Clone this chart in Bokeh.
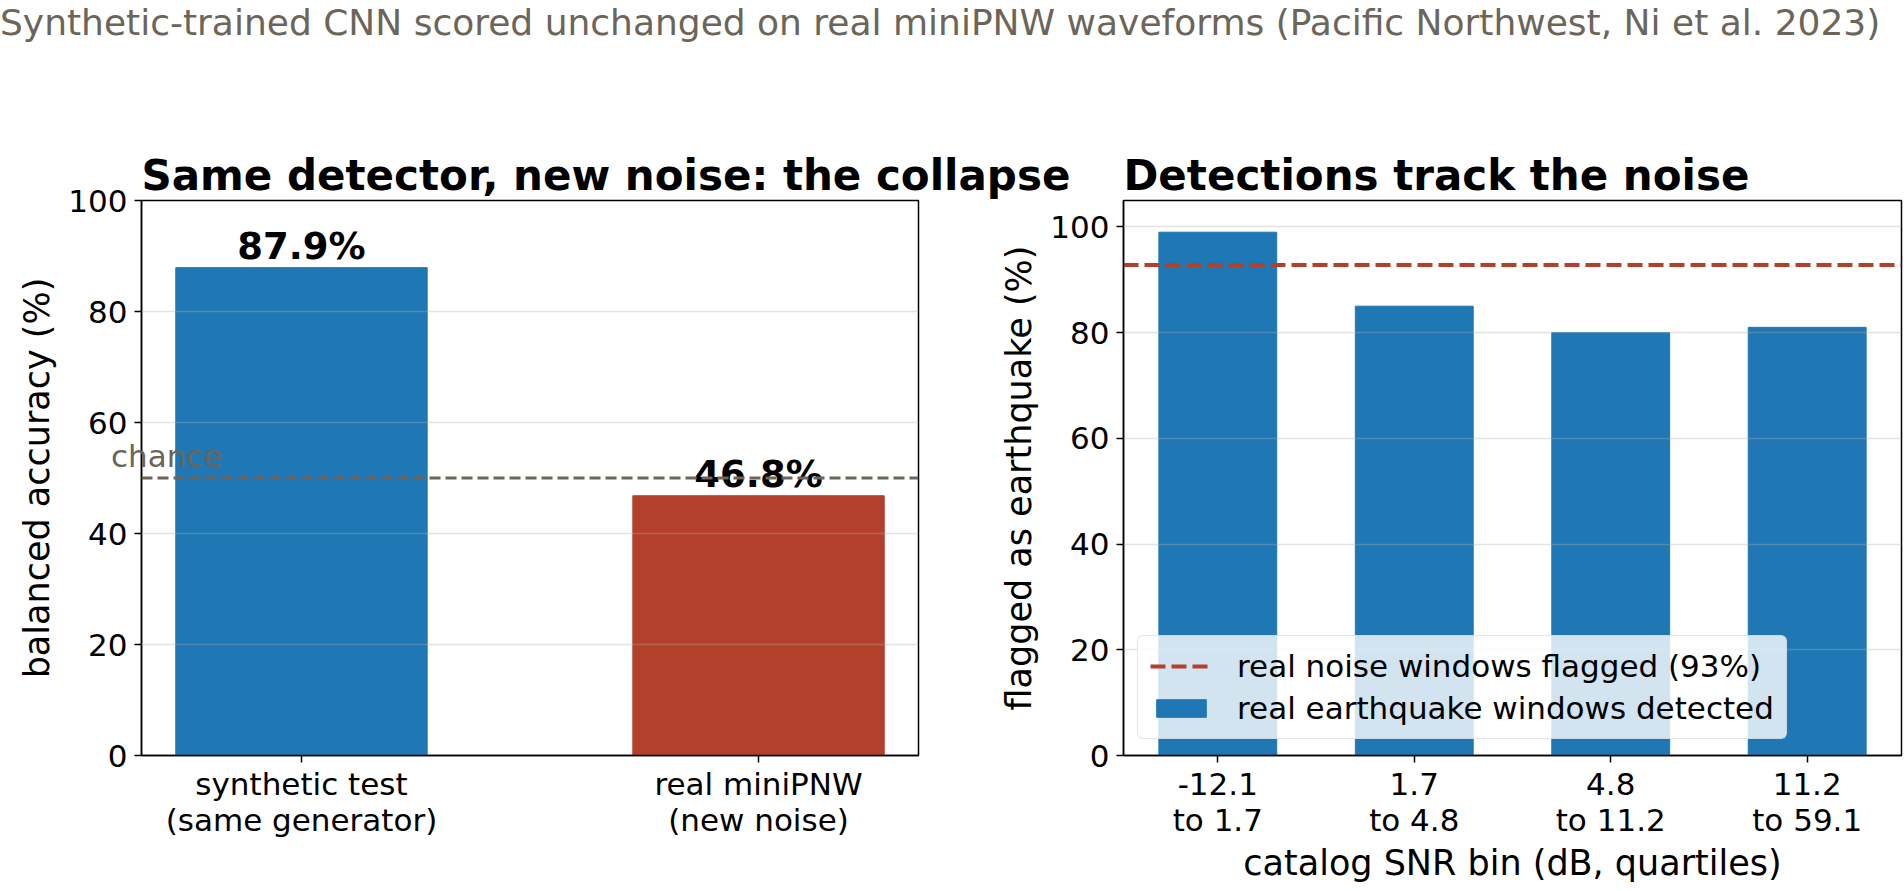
from bokeh.plotting import figure
from bokeh.models import (Range1d, FixedTicker, Span, Legend, LegendItem,
                          Div, ColumnDataSource)
from bokeh.layouts import row, column
from bokeh.core.properties import value
from bokeh.embed import file_html
from bokeh.resources import INLINE

# ---------------- data ----------------
suptitle = "Synthetic-trained CNN scored unchanged on real miniPNW waveforms (Pacific Northwest, Ni et al. 2023)"

left_title = "Same detector, new noise: the collapse"
left_categories = ["synthetic test\n(same generator)", "real miniPNW\n(new noise)"]
left_accuracy = [87.9, 46.8]
chance_level = 50
chance_text = "chance"
left_ylabel = "balanced accuracy (%)"

right_title = "Detections track the noise"
snr_bins = ["-12.1\nto 1.7", "1.7\nto 4.8", "4.8\nto 11.2", "11.2\nto 59.1"]
eq_detected = [99, 85, 80, 81]
noise_flagged = 92.8
right_ylabel = "flagged as earthquake (%)"
right_xlabel = "catalog SNR bin (dB, quartiles)"
legend_noise = "real noise windows flagged (93%)"
legend_eq = "real earthquake windows detected"

y_ticks = [0, 20, 40, 60, 80, 100]

# ---------------- style ----------------
FONT = "DejaVu Sans"
BLUE = "#1f77b4"
RED = "#b3402b"
GRAY = "#6b655a"
left_colors = [BLUE, RED]

X1 = (-0.35, 1.35)
X2 = (-0.48, 3.48)
Y1 = (0, 100)
Y2 = (0, 105)

HEADER_H = 82
FRAME_H = 555
TOP = 118
BOTTOM = 134
P1_LEFT, P1_FRAME, P1_RIGHT = 141, 777, 165
P2_START, P2_LEFT, P2_FRAME, P2_RIGHT = 993, 130, 778, 3


def style(p):
    p.outline_line_color = "black"
    p.outline_line_width = 1.5
    p.outline_line_alpha = 1.0
    p.border_fill_color = None
    p.background_fill_color = "white"
    p.xgrid.visible = False
    p.ygrid.grid_line_color = "#b0b0b0"
    p.ygrid.grid_line_alpha = 0.35
    p.ygrid.grid_line_width = 1.5
    p.ygrid.level = "guide"
    p.yaxis.ticker = FixedTicker(ticks=y_ticks)
    for ax in p.axis:
        ax.axis_line_color = "black"
        ax.axis_line_width = 1.5
        ax.major_tick_line_color = "black"
        ax.major_tick_line_width = 1.5
        ax.major_tick_in = 0
        ax.major_tick_out = 7
        ax.minor_tick_line_color = None
        ax.major_label_text_font = FONT
        ax.major_label_text_font_size = "31px"
        ax.major_label_text_color = "black"
        ax.major_label_text_line_height = 1.025
        ax.major_label_standoff = 7
        ax.axis_label_text_font = FONT
        ax.axis_label_text_font_size = "35px"
        ax.axis_label_text_font_style = "normal"
        ax.axis_label_text_color = "black"
        ax.axis_label_text_line_height = 1.0
    p.xaxis.major_label_standoff = 3
    p.title.text_font = FONT
    p.title.text_font_size = "42px"
    p.title.text_font_style = "bold"
    p.title.text_color = "black"
    p.title.align = "left"
    p.title.offset = 0
    p.title.standoff = 2


# ---------------- left panel ----------------
p1 = figure(frame_width=P1_FRAME, frame_height=FRAME_H, x_range=Range1d(*X1),
            y_range=Range1d(*Y1),
            output_backend="svg", toolbar_location=None, title=left_title,
            min_border_left=P1_LEFT, min_border_right=P1_RIGHT, min_border_top=TOP,
            min_border_bottom=BOTTOM)
style(p1)
p1.margin = 0

src1 = ColumnDataSource(dict(x=list(range(len(left_categories))), top=left_accuracy,
                             color=left_colors,
                             label=[f"{v:.1f}%" for v in left_accuracy]))
p1.vbar(x="x", top="top", width=0.55, color="color", source=src1)
p1.add_layout(Span(location=chance_level, dimension="width", line_color=GRAY,
                   line_dash="11 5", line_width=3))
p1.text(x="x", y="top", text="label", source=src1, text_align="center",
        text_baseline="bottom", y_offset=0, text_font=value(FONT),
        text_font_style="bold", text_font_size="37px", text_color="black")
p1.xaxis.ticker = FixedTicker(ticks=list(range(len(left_categories))))
p1.xaxis.major_label_overrides = {i: c for i, c in enumerate(left_categories)}
p1.yaxis.axis_label = left_ylabel
p1.yaxis.axis_label_standoff = 8

# ---------------- right panel ----------------
p2 = figure(frame_width=P2_FRAME, frame_height=FRAME_H, x_range=Range1d(*X2),
            y_range=Range1d(*Y2),
            output_backend="svg", toolbar_location=None, title=right_title,
            min_border_left=P2_LEFT, min_border_right=P2_RIGHT, min_border_top=TOP,
            min_border_bottom=BOTTOM)
style(p2)
p2.margin = (0, 0, 0, P2_START - (P1_LEFT + P1_FRAME + P1_RIGHT))

src2 = ColumnDataSource(dict(x=list(range(len(snr_bins))), top=eq_detected))
bars = p2.vbar(x="x", top="top", width=0.6, color=BLUE, source=src2)
src_line = ColumnDataSource(dict(x=list(X2), y=[noise_flagged, noise_flagged]))
noise_line = p2.line(x="x", y="y", source=src_line, line_color=RED,
                     line_dash="15 6", line_width=4)
p2.xaxis.ticker = FixedTicker(ticks=list(range(len(snr_bins))))
p2.xaxis.major_label_overrides = {i: c for i, c in enumerate(snr_bins)}
p2.xaxis.axis_label = right_xlabel
p2.xaxis.axis_label_standoff = 2
p2.yaxis.axis_label = right_ylabel
p2.yaxis.axis_label_standoff = 8

legend = Legend(items=[LegendItem(label=legend_noise, renderers=[noise_line]),
                       LegendItem(label=legend_eq, renderers=[bars])],
                location=(14, 16))
legend.margin = 0
legend.padding = 12
legend.spacing = 6
legend.glyph_width = 62
legend.glyph_height = 22
legend.label_standoff = 25
legend.label_text_font = FONT
legend.label_text_font_size = "31px"
legend.label_text_color = "black"
legend.background_fill_color = "white"
legend.background_fill_alpha = 0.8
legend.border_line_color = "#cccccc"
legend.border_line_width = 1.5
try:
    legend.border_radius = 6
except Exception:
    pass
p2.add_layout(legend)

# ---------------- header ----------------
header = Div(text=(f'<div style="font-family:\'{FONT}\'; font-size:36px; color:{GRAY}; '
                   f'text-align:center; line-height:46px; white-space:nowrap; '
                   f'width:1888px; padding-right:16px;">{suptitle}</div>'),
             width=1904, height=HEADER_H)
header.margin = 0

# "chance" label sits partly outside the left frame, so it is drawn as an overlay text
fig_h = TOP + FRAME_H + BOTTOM
chance_px = HEADER_H + TOP + FRAME_H * (Y1[1] - chance_level) / (Y1[1] - Y1[0])
chance_left = P1_LEFT - P1_FRAME * 0.065 / (X1[1] - X1[0])
chance_div = Div(text=(f'<div style="font-family:\'{FONT}\'; font-size:31px; color:{GRAY}; '
                       f'line-height:36px; white-space:nowrap;">{chance_text}</div>'),
                 width=200, height=40)
chance_top = int(round(chance_px - 39))
chance_div.margin = (chance_top - (HEADER_H + fig_h), 0, 0, int(round(chance_left)))

layout = column(header, row(p1, p2), chance_div)
layout.margin = 0

open("out.html", "w").write(file_html(layout, INLINE))
